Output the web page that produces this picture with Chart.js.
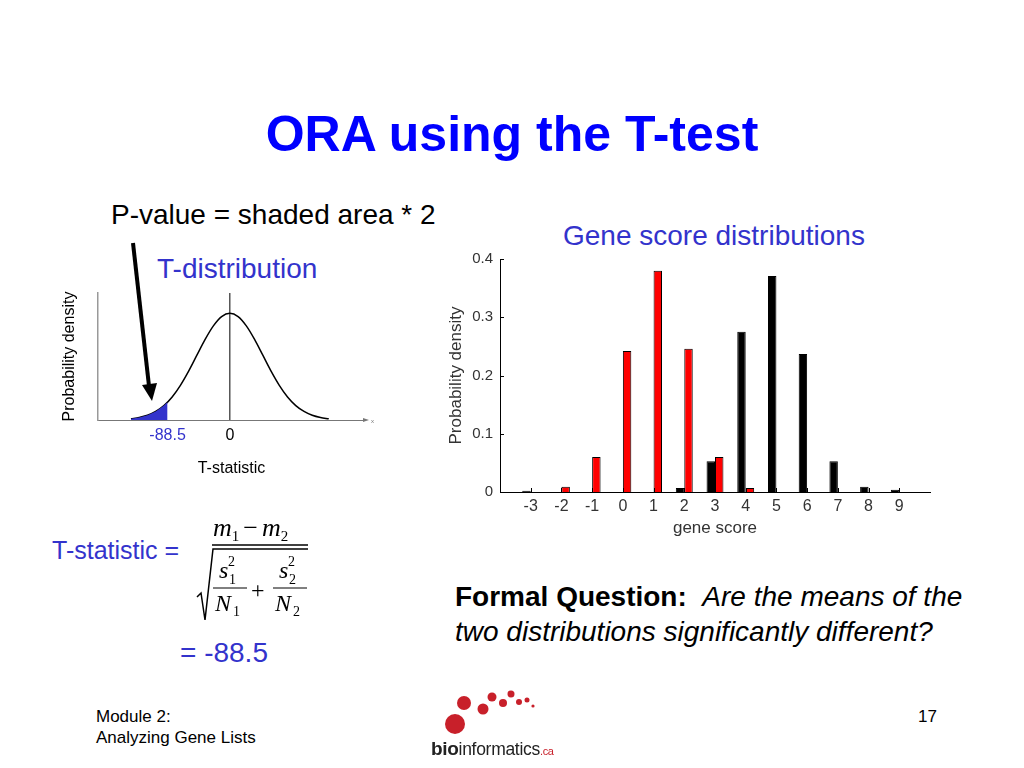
<!DOCTYPE html>
<html lang="en">
  <head>
    <meta charset="UTF-8" />
    <script src="https://cdn.jsdelivr.net/npm/chart.js@4.4.0/dist/chart.umd.min.js"></script>
    <title>ORA using the T-test</title>
    <style>
      html,
      body {
        margin: 0;
        padding: 0;
        background-color: #ffffff;
      }
      #slide {
        position: relative;
        width: 1024px;
        height: 768px;
        overflow: hidden;
        font-family: "Liberation Sans", Arial, sans-serif;
      }
      .t {
        position: absolute;
        white-space: nowrap;
        line-height: 1;
      }
      canvas {
        display: block;
      }
      .box {
        position: absolute;
      }
      svg {
        position: absolute;
        left: 0;
        top: 0;
      }
    </style>
  </head>
  <body>
    <div id="slide">
      <div class="t" style="left:0;width:1024px;text-align:center;top:109px;font-size:50px;font-weight:bold;color:#0000ff;">ORA using the T-test</div>
      <div class="t" style="left:111px;top:201px;font-size:28px;color:#000;">P-value = shaded area * 2</div>
      <div class="t" style="left:157px;top:255px;font-size:28px;color:#3333cc;">T-distribution</div>
      <div class="t" style="left:563px;top:222px;font-size:28px;color:#3333cc;">Gene score distributions</div>
      <div class="t" style="left:52px;top:538px;font-size:25px;color:#3333cc;">T-statistic =</div>
      <div class="t" style="left:180px;top:639px;font-size:28px;color:#3333cc;">= -88.5</div>
      <div class="t" style="left:455px;top:583px;font-size:28px;color:#000;"><b>Formal Question:</b>&nbsp; <i>Are the means of the</i></div>
      <div class="t" style="left:455px;top:618px;font-size:28px;color:#000;"><i>two distributions significantly different?</i></div>
      <div class="t" style="left:96px;top:708px;font-size:17px;color:#000;">Module 2:</div>
      <div class="t" style="left:96px;top:729px;font-size:17px;color:#000;">Analyzing Gene Lists</div>
      <div class="t" style="left:918px;top:708px;font-size:17px;color:#000;">17</div>

      <div class="box" style="left:60px;top:280px;width:320px;height:200px;">
        <canvas id="tChart"></canvas>
      </div>
      <div class="box" style="left:440px;top:240px;width:500px;height:305px;">
        <canvas id="barChart"></canvas>
      </div>

      <svg width="1024" height="768" viewBox="0 0 1024 768">
        <!-- arrow to the shaded tail -->
        <line x1="133" y1="243" x2="149" y2="386" stroke="#000" stroke-width="4" />
        <polygon points="142,385 157,383 152,401" fill="#000" />

        <!-- formula -->
        <g font-family="Liberation Serif, Times New Roman, serif" fill="#000">
          <text x="213" y="536" font-size="26"><tspan font-style="italic">m</tspan><tspan font-size="15" dy="5">1</tspan><tspan dy="-5" dx="4">−</tspan><tspan font-style="italic" dx="4">m</tspan><tspan font-size="15" dy="5">2</tspan></text>
          <line x1="212" y1="545" x2="308" y2="545" stroke="#000" stroke-width="1.5" />
          <polyline points="197,597 201,593 205,620 213,549 308,549" fill="none" stroke="#000" stroke-width="1.5" />
          <text x="219" y="578" font-size="24" font-style="italic">s</text>
          <text x="228" y="566" font-size="14">2</text>
          <text x="229" y="584" font-size="14">1</text>
          <line x1="213" y1="588" x2="247" y2="588" stroke="#000" stroke-width="1" />
          <text x="215" y="611" font-size="24" font-style="italic">N</text>
          <text x="233" y="616" font-size="14">1</text>
          <text x="251" y="598" font-size="24">+</text>
          <text x="279" y="578" font-size="24" font-style="italic">s</text>
          <text x="288" y="566" font-size="14">2</text>
          <text x="289" y="584" font-size="14">2</text>
          <line x1="273" y1="588" x2="307" y2="588" stroke="#000" stroke-width="1" />
          <text x="275" y="611" font-size="24" font-style="italic">N</text>
          <text x="293" y="616" font-size="14">2</text>
        </g>

        <!-- logo -->
        <g fill="#c8202a">
          <circle cx="455" cy="724" r="10" />
          <circle cx="464" cy="703" r="7" />
          <circle cx="483" cy="709" r="5.5" />
          <circle cx="492" cy="697" r="4.5" />
          <circle cx="503" cy="703" r="4" />
          <circle cx="511" cy="694" r="3.5" />
          <circle cx="519" cy="702" r="3" />
          <circle cx="527" cy="700" r="2.5" />
          <circle cx="533" cy="706" r="1.6" />
        </g>
        <text x="431" y="755" font-family="Liberation Sans, Arial, sans-serif" font-size="17.5" fill="#222" letter-spacing="-0.3"><tspan font-weight="bold" font-size="19">bio</tspan><tspan>informatics</tspan><tspan font-size="11" fill="#c8202a">.ca</tspan></text>
      </svg>
    </div>

    <script>
      // gene score histogram
      const scoreLabels = ["-4", "-3", "-2", "-1", "0", "1", "2", "3", "4", "5", "6", "7", "8", "9", "10"];
      const blackScores = [null, 0.002, 0, 0, 0, 0, 0.007, 0.053, 0.275, 0.371, 0.237, 0.053, 0.009, 0.004, null];
      const redScores = [null, 0, 0.009, 0.06, 0.242, 0.38, 0.246, 0.06, 0.007, 0, 0, 0, 0, 0, null];
      const densityTicks = [0, 0.1, 0.2, 0.3, 0.4];

      // T-distribution curve (in sd units, peak scaled to 1)
      const tX = [-3, -2.75, -2.5, -2.25, -2, -1.75, -1.5, -1.25, -1, -0.75, -0.5, -0.25, 0,
                  0.25, 0.5, 0.75, 1, 1.25, 1.5, 1.75, 2, 2.25, 2.5, 2.75, 3];
      const tY = [0.011, 0.023, 0.044, 0.08, 0.135, 0.216, 0.325, 0.458, 0.607, 0.755, 0.882, 0.969, 1.0,
                  0.969, 0.882, 0.755, 0.607, 0.458, 0.325, 0.216, 0.135, 0.08, 0.044, 0.023, 0.011];
      const shadeX = [-3, -2.75, -2.5, -2.25, -2, -1.89];
      const shadeY = [0.011, 0.023, 0.044, 0.08, 0.135, 0.168];
      const tTickValues = [-1.89, 0];
      const tTickLabels = ["-88.5", "0"];

      const pts = (xs, ys) => xs.map((x, i) => ({ x: x, y: ys[i] }));

      // --------------------------------------------------------------------

      const axisEnd = {
        id: "axisEnd",
        afterDraw(chart) {
          const ctx = chart.ctx;
          const a = chart.chartArea;
          ctx.save();
          ctx.fillStyle = "#777";
          ctx.beginPath();
          ctx.moveTo(a.right + 4, a.bottom);
          ctx.lineTo(a.right - 2, a.bottom - 2);
          ctx.lineTo(a.right - 2, a.bottom + 2);
          ctx.closePath();
          ctx.fill();
          ctx.font = "6px 'Liberation Sans'";
          ctx.fillText("x", a.right + 6, a.bottom + 3);
          ctx.restore();
        },
      };

      // matlab style inward tick marks
      const inTicks = {
        id: "inTicks",
        afterDraw(chart) {
          const ctx = chart.ctx;
          const a = chart.chartArea;
          const xs = chart.scales.x;
          const ys = chart.scales.y;
          ctx.save();
          ctx.strokeStyle = "#000";
          ctx.lineWidth = 1;
          ctx.beginPath();
          densityTicks.forEach((v) => {
            const y = Math.round(ys.getPixelForValue(v)) + 0.5;
            ctx.moveTo(a.left, y);
            ctx.lineTo(a.left + 4, y);
          });
          for (let i = 1; i < scoreLabels.length - 1; i++) {
            const x = Math.round(xs.getPixelForValue(i)) + 0.5;
            ctx.moveTo(x, a.bottom);
            ctx.lineTo(x, a.bottom - 4);
          }
          ctx.stroke();
          ctx.restore();
        },
      };

      new Chart(document.getElementById("tChart").getContext("2d"), {
        type: "line",
        data: {
          datasets: [
            {
              data: pts(shadeX, shadeY),
              borderWidth: 0,
              backgroundColor: "#3333cc",
              fill: "origin",
              pointRadius: 0,
            },
            {
              data: pts(tX, tY),
              borderColor: "#000",
              borderWidth: 1.5,
              cubicInterpolationMode: "monotone",
              fill: false,
              pointRadius: 0,
            },
            {
              data: [{ x: 0, y: 0 }, { x: 0, y: 1.19 }],
              borderColor: "#000",
              borderWidth: 1,
              fill: false,
              pointRadius: 0,
            },
          ],
        },
        options: {
          responsive: true,
          maintainAspectRatio: false,
          animation: false,
          layout: { padding: { top: 13, right: 15, left: 0, bottom: 0 } },
          plugins: { legend: { display: false }, tooltip: { enabled: false } },
          scales: {
            x: {
              type: "linear",
              min: -4,
              max: 4.1,
              afterBuildTicks: (s) => {
                s.ticks = tTickValues.map((v) => ({ value: v }));
              },
              afterFit: (s) => {
                s.height = 60;
              },
              grid: { display: false, drawTicks: false },
              border: { color: "#777", width: 1 },
              ticks: {
                autoSkip: false,
                maxRotation: 0,
                padding: 6,
                font: { family: "Liberation Sans", size: 16 },
                color: (c) => (c.index === 0 ? "#3333cc" : "#000"),
                callback: (v, i) => tTickLabels[i],
              },
              title: {
                display: true,
                text: "T-statistic",
                color: "#000",
                font: { family: "Liberation Sans", size: 16 },
                padding: { top: 0, bottom: 2 },
              },
            },
            y: {
              min: 0,
              max: 1.19,
              afterFit: (s) => {
                s.width = 38;
              },
              grid: { display: false, drawTicks: false },
              border: { color: "#999", width: 1.5 },
              ticks: { display: false },
              title: {
                display: true,
                text: "Probability density",
                color: "#000",
                font: { family: "Liberation Sans", size: 16 },
                padding: { top: 0, bottom: 0 },
              },
            },
          },
        },
        plugins: [axisEnd],
      });

      // --------------------------------------------------------------------

      new Chart(document.getElementById("barChart").getContext("2d"), {
        type: "bar",
        data: {
          labels: scoreLabels,
          datasets: [
            {
              data: blackScores,
              backgroundColor: "#000",
              borderColor: "#000",
              borderWidth: 1,
            },
            {
              data: redScores,
              backgroundColor: "#ff0000",
              borderColor: "#000",
              borderWidth: 1,
            },
          ],
        },
        options: {
          responsive: true,
          maintainAspectRatio: false,
          animation: false,
          categoryPercentage: 0.55,
          barPercentage: 1,
          layout: { padding: { top: 19, right: 10, left: 0, bottom: 0 } },
          plugins: { legend: { display: false }, tooltip: { enabled: false } },
          scales: {
            x: {
              offset: false,
              afterFit: (s) => {
                s.height = 53;
              },
              grid: { display: false, offset: false, drawTicks: false },
              border: { color: "#000", width: 1 },
              ticks: {
                autoSkip: false,
                maxRotation: 0,
                padding: 5,
                color: "#333",
                font: { family: "Liberation Sans", size: 16 },
                callback: (v, i) => (i === 0 || i === scoreLabels.length - 1 ? "" : scoreLabels[i]),
              },
              title: {
                display: true,
                text: "gene score",
                color: "#333",
                font: { family: "Liberation Sans", size: 17 },
                padding: { top: 0, bottom: 6 },
              },
            },
            y: {
              min: 0,
              max: 0.4,
              afterBuildTicks: (s) => {
                s.ticks = densityTicks.map((v) => ({ value: v }));
              },
              afterFit: (s) => {
                s.width = 60;
              },
              grid: { display: false, drawTicks: false },
              border: { color: "#000", width: 1 },
              ticks: {
                padding: 7,
                color: "#333",
                font: { family: "Liberation Sans", size: 15 },
                callback: (v) => (v === 0 ? "0" : v.toFixed(1)),
              },
              title: {
                display: true,
                text: "Probability density",
                color: "#333",
                font: { family: "Liberation Sans", size: 17 },
                padding: { top: 6, bottom: 0 },
              },
            },
          },
        },
        plugins: [inTicks],
      });
    </script>
  </body>
</html>
